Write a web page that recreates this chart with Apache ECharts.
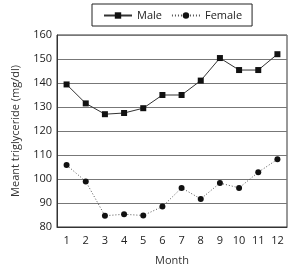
<!DOCTYPE html>
<html>
<head>
<meta charset="utf-8">
<script src="https://cdn.jsdelivr.net/npm/echarts@6/dist/echarts.min.js"></script>
<style>
  html, body { margin: 0; padding: 0; background: #fff; }
  #container { width: 296px; height: 272px; }
</style>
</head>
<body>
<div id="container"></div>
<script>
// months on the x axis
var months = ['1', '2', '3', '4', '5', '6', '7', '8', '9', '10', '11', '12']
// mean triglyceride
var maleValues = [139.4, 131.5, 127, 127.5, 129.5, 135, 135, 141, 150.4, 145.4, 145.4, 152]
var femaleValues = [105.8, 99, 84.7, 85.3, 84.8, 88.5, 96.3, 91.7, 98.3, 96.3, 102.8, 108.2]

var chart = echarts.init(document.getElementById('container'))
var font = 'Open Sans'

chart.setOption({
  backgroundColor: '#fff',
  animation: false,
  legend: {
    top: 4,
    left: 92,
    borderColor: '#222',
    borderWidth: 1,
    padding: [6, 10, 5, 11],
    itemWidth: 28,
    itemHeight: 8,
    itemGap: 9,
    textStyle: { color: '#222', fontSize: 11, fontFamily: font },
    data: ['Male', 'Female']
  },
  grid: {
    left: 57,
    right: 9,
    top: 35,
    bottom: 45,
    show: true,
    borderColor: '#333',
    borderWidth: 1
  },
  xAxis: {
    type: 'category',
    data: months,
    boundaryGap: true,
    name: 'Month',
    nameLocation: 'middle',
    nameGap: 28,
    nameTextStyle: { color: '#333', fontSize: 11, fontFamily: font },
    axisLine: { lineStyle: { color: '#333' } },
    axisTick: { inside: true, length: 3, lineStyle: { color: '#333' } },
    axisLabel: { color: '#222', fontSize: 11, fontFamily: font, margin: 8 }
  },
  yAxis: {
    type: 'value',
    min: 80,
    max: 160,
    interval: 10,
    name: 'Meant triglyceride (mg/dl)',
    nameLocation: 'middle',
    nameGap: 36,
    nameTextStyle: { color: '#333', fontSize: 11, fontFamily: font },
    axisLine: { show: true, lineStyle: { color: '#333' } },
    axisTick: { show: false },
    axisLabel: { color: '#222', fontSize: 11, fontFamily: font, margin: 5 },
    splitLine: { lineStyle: { color: '#777', width: 1 } }
  },
  series: [
    {
      name: 'Male',
      type: 'line',
      data: maleValues,
      symbol: 'rect',
      symbolSize: 6,
      itemStyle: { color: '#111' },
      lineStyle: { color: '#333', width: 1 }
    },
    {
      name: 'Female',
      type: 'line',
      data: femaleValues,
      symbol: 'circle',
      symbolSize: 6,
      itemStyle: { color: '#111' },
      lineStyle: { color: '#555', width: 1, type: [1, 2] }
    }
  ]
})
</script>
</body>
</html>
